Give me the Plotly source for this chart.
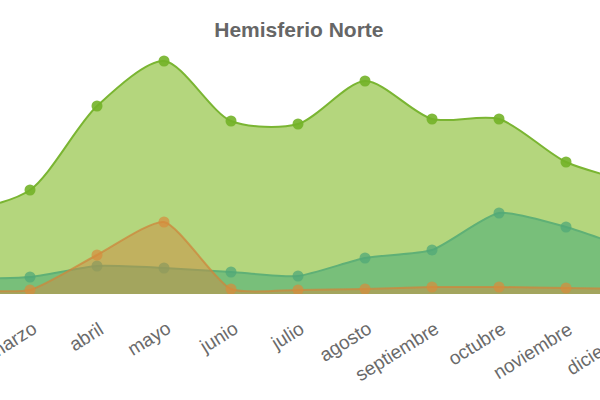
import plotly.graph_objects as go

meses = ["enero", "febrero", "marzo", "abril", "mayo", "junio", "julio",
         "agosto", "septiembre", "octubre", "noviembre", "diciembre"]

serie_a = [72, 82, 104, 188, 233, 173, 170, 213, 175, 175, 132, 112]
serie_b = [14, 15, 17, 28, 26, 22, 18, 36, 44, 81, 67, 44]
serie_c = [4, 4, 4, 39, 72, 5, 4, 5, 7, 7, 6, 5]

fig = go.Figure()

fig.add_trace(go.Scatter(
    x=meses, y=serie_a, mode="lines+markers", fill="tozeroy",
    line=dict(color="#7ab532", width=2, shape="spline", smoothing=0.8),
    marker=dict(size=11, color="rgba(115,178,40,0.9)"),
    fillcolor="rgb(180,214,125)", hoverinfo="skip"))

fig.add_trace(go.Scatter(
    x=meses, y=serie_b, mode="lines+markers", fill="tozeroy",
    line=dict(color="#5fb076", width=2, shape="spline", smoothing=0.6),
    marker=dict(size=11, color="rgba(80,168,120,0.75)"),
    fillcolor="rgba(60,168,120,0.5)", hoverinfo="skip"))

fig.add_trace(go.Scatter(
    x=meses, y=serie_c, mode="lines+markers", fill="tozeroy",
    line=dict(color="rgba(205,135,60,0.75)", width=2, shape="spline", smoothing=0.6),
    marker=dict(size=11, color="rgba(215,140,60,0.7)"),
    fillcolor="rgba(205,140,65,0.5)", hoverinfo="skip"))

# month labels drawn as rotated annotations anchored below each category
for m in meses:
    fig.add_annotation(
        x=m, y=0, xref="x", yref="y", text=m, showarrow=False,
        textangle=-32, xanchor="right", yanchor="top",
        xshift=13, yshift=-21,
        font=dict(family="Liberation Sans, Arial", size=19, color="#6a6a6a"))

fig.update_layout(
    width=640, height=400,
    margin=dict(l=0, r=0, t=50, b=106, autoexpand=False),
    paper_bgcolor="white", plot_bgcolor="white",
    showlegend=False,
    hovermode=False,
    title=dict(text="<b>Hemisferio Norte</b>", x=0.467, xanchor="center",
               y=0.927, yanchor="middle", automargin=False,
               font=dict(family="Liberation Sans, Arial", size=21, color="#666666")),
    xaxis=dict(range=[1.552, 11.104], showgrid=False, zeroline=False,
               showline=False, ticks="", showticklabels=False, automargin=False),
    yaxis=dict(range=[0, 244], visible=False, showgrid=False, zeroline=False,
               automargin=False),
)

fig.write_html("out.html", config={"displayModeBar": False},
               post_script="document.body.style.margin='0';")
